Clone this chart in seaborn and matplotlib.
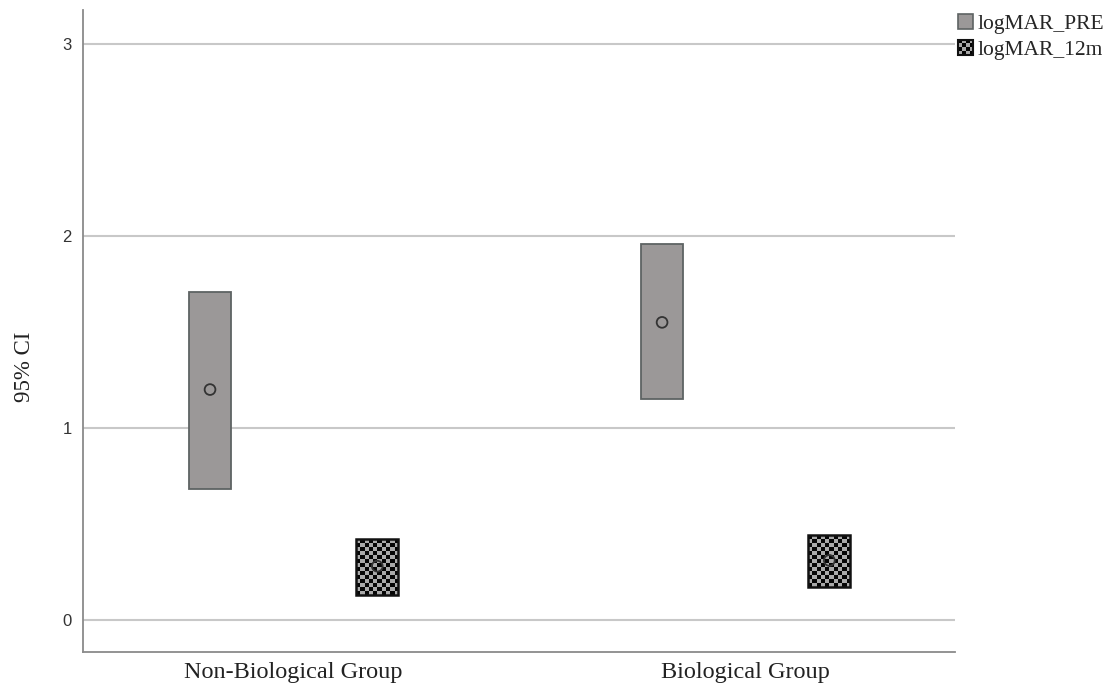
import numpy as np
import pandas as pd
import matplotlib
matplotlib.use('Agg')
import matplotlib.pyplot as plt
import seaborn as sns
from matplotlib.colors import ListedColormap
from matplotlib.patches import Rectangle, Patch
from matplotlib.legend_handler import HandlerBase
from matplotlib.image import BboxImage
from matplotlib.transforms import Bbox, TransformedBbox

# values (95% CI boxes and means)
groups = ['Non-Biological Group', 'Biological Group']
series = ['logMAR_PRE', 'logMAR_12m']
pre_lower = [0.68, 1.15]
pre_upper = [1.71, 1.96]
pre_mean = [1.20, 1.55]
m12_lower = [0.13, 0.17]
m12_upper = [0.42, 0.44]
m12_mean = [0.28, 0.31]
y_ticks = [0, 1, 2, 3]

df = pd.DataFrame({
    'group': groups * 2,
    'series': [series[0]] * 2 + [series[1]] * 2,
    'lower': pre_lower + m12_lower,
    'upper': pre_upper + m12_upper,
    'mean': pre_mean + m12_mean,
})
offsets = {series[0]: -0.185, series[1]: 0.185}
df['x'] = [groups.index(g) + offsets[s] for g, s in zip(df['group'], df['series'])]

sns.set_theme(style='white')
plt.rcParams['font.family'] = ['Liberation Serif', 'DejaVu Serif']

GRAY = '#9b9898'
EDGE = '#5e6363'
checker_cmap = ListedColormap(['#050505', '#a9a9a9'])


def checker(rows, cols):
    i, j = np.indices((rows, cols))
    return (i + j) % 2


class CheckerHandler(HandlerBase):
    def create_artists(self, legend, orig_handle, xdescent, ydescent,
                       width, height, fontsize, trans):
        bb = TransformedBbox(Bbox.from_bounds(-xdescent, -ydescent, width, height), trans)
        img = BboxImage(bb, cmap=checker_cmap, interpolation='nearest')
        img.set_data(checker(4, 4))
        rect = Rectangle((-xdescent, -ydescent), width, height, fc='none',
                         ec='#111111', lw=1.5, transform=trans)
        return [img, rect]


fig = plt.figure(figsize=(11.1, 6.86), dpi=100)
ax = fig.add_axes([83 / 1110, 34 / 686, 872 / 1110, 642 / 686])

xlim = (-0.466, 1.463)
ylim = (-0.167, 3.177)
bar_w = 0.093

for y in y_ticks:
    ax.axhline(y, color='#c8c8c8', lw=1.5, zorder=0)

for _, r in df.iterrows():
    h = r['upper'] - r['lower']
    if r['series'] == series[0]:
        ax.bar(r['x'], h, width=bar_w, bottom=r['lower'], color=GRAY,
               edgecolor=EDGE, linewidth=1.3, zorder=2)
    else:
        bars = ax.bar(r['x'], h, width=bar_w, bottom=r['lower'], color='none',
                      edgecolor='#111111', linewidth=1.8, zorder=3)
        x0 = r['x'] - bar_w / 2
        ch = 4 / 192
        nr = int(np.ceil(h / ch))
        im = ax.imshow(checker(nr, 10), cmap=checker_cmap, interpolation='nearest',
                       extent=(x0, x0 + bar_w, r['lower'], r['lower'] + nr * ch),
                       origin='lower', aspect='auto', zorder=2)
        im.set_clip_path(bars[0])

sns.scatterplot(data=df, x='x', y='mean', ax=ax, s=60, marker='o',
                facecolor='none', edgecolor='#333333', linewidth=1.3,
                zorder=4, legend=False)

ax.set_xlim(*xlim)
ax.set_ylim(*ylim)
ax.set_xticks(range(len(groups)))
ax.set_xticklabels(groups, fontsize=17.5, color='#222222')
ax.set_yticks(y_ticks)
ax.set_yticklabels([str(t) for t in y_ticks], fontsize=12, color='#333333',
                   family=['Liberation Sans', 'DejaVu Sans'])
ax.tick_params(axis='y', length=0, pad=8)
ax.tick_params(axis='x', length=0, pad=7)
ax.set_xlabel('')
ax.set_ylabel('95% CI', fontsize=16.5, color='#222222')
ax.yaxis.set_label_coords(-0.055, 0.444)
for s in ['top', 'right']:
    ax.spines[s].set_visible(False)
for s in ['left', 'bottom']:
    ax.spines[s].set_color('#8a8a8a')
    ax.spines[s].set_linewidth(1.3)

handles = [Patch(facecolor=GRAY, edgecolor=EDGE, linewidth=1.2), Patch()]
leg = fig.legend(handles, series, loc='upper left',
                 bbox_to_anchor=(956 / 1110, 1 - 12 / 686), frameon=False,
                 fontsize=15.5, handlelength=0.7, handleheight=0.7,
                 handletextpad=0.2, labelspacing=0.25, borderaxespad=0,
                 borderpad=0.1, handler_map={handles[1]: CheckerHandler()})

fig.savefig('out.png', dpi=100)
